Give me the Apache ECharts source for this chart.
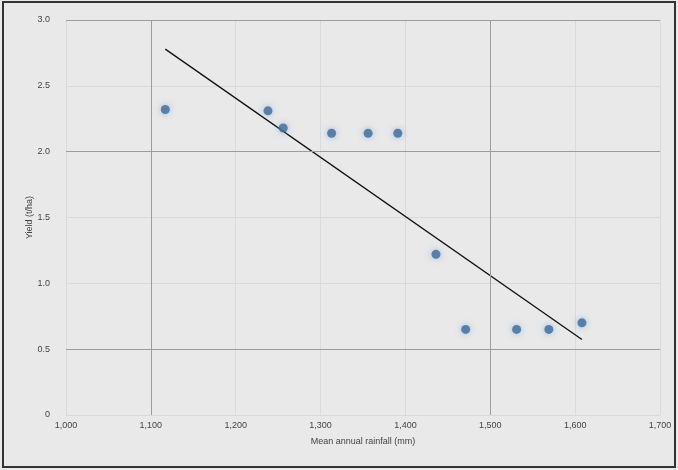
<!DOCTYPE html>
<html>
<head>
<meta charset="utf-8">
<script src="https://cdn.jsdelivr.net/npm/echarts@6/dist/echarts.min.js"></script>
<style>
    html, body {margin: 0; padding: 0; background: #e9e9e9;}
    #main {width: 678px; height: 470px;}
</style>
</head>
<body>
<div id="main"></div>
<script>
// ------------------ data ------------------
const xValues = [1117, 1238, 1256, 1313, 1356, 1391, 1436, 1471, 1531, 1569, 1608];
const yValues = [2.32, 2.31, 2.18, 2.14, 2.14, 2.14, 1.22, 0.65, 0.65, 0.65, 0.70];
const xTicks = [1000, 1100, 1200, 1300, 1400, 1500, 1600, 1700];
const yTicks = [0, 0.5, 1, 1.5, 2, 2.5, 3];
const xMajor = [1100, 1500];
const yMajor = [0.5, 2];

// linear trend (least squares) from the points
function trend(xs, ys) {
    let n = xs.length, mx = 0, my = 0;
    for (let i = 0; i < n; i++) { mx += xs[i]; my += ys[i]; }
    mx /= n; my /= n;
    let sxy = 0, sxx = 0;
    for (let i = 0; i < n; i++) {
        sxy += (xs[i] - mx) * (ys[i] - my);
        sxx += (xs[i] - mx) * (xs[i] - mx);
    }
    let b = sxy / sxx, a = my - b * mx;
    let x0 = Math.min(...xs), x1 = Math.max(...xs);
    return [[x0, a + b * x0], [x1, a + b * x1]];
}

let myChart = echarts.init(document.getElementById('main'));
let labelStyle = {color: '#444', fontSize: 9, fontFamily: 'Liberation Sans'};

let option = {
    animation: false,
    backgroundColor: '#e9e9e9',
    grid: {left: 66, right: 18, top: 20, bottom: 55},
    xAxis: {
        type: 'value',
        min: xTicks[0], max: xTicks[xTicks.length - 1], interval: 100,
        name: 'Mean annual rainfall (mm)',
        nameLocation: 'middle', nameGap: 22,
        nameTextStyle: labelStyle,
        axisLine: {show: false},
        axisTick: {show: false},
        axisLabel: Object.assign({margin: 6, formatter: v => v.toLocaleString('en-US')}, labelStyle),
        splitLine: {show: true, lineStyle: {color: '#dadada', width: 1}}
    },
    yAxis: {
        type: 'value',
        min: yTicks[0], max: yTicks[yTicks.length - 1], interval: 0.5,
        name: 'Yield (t/ha)',
        nameLocation: 'middle', nameGap: 32,
        nameMoveOverlap: false,
        nameTextStyle: labelStyle,
        axisLine: {show: false},
        axisTick: {show: false},
        axisLabel: Object.assign({margin: 16, formatter: v => v === 0 ? '0' : v.toFixed(1)}, labelStyle),
        splitLine: {show: true, lineStyle: {color: '#dadada', width: 1}}
    },
    graphic: [{
        type: 'rect',
        shape: {x: 3, y: 2, width: 672, height: 465},
        style: {fill: 'none', stroke: '#333', lineWidth: 2},
        silent: true
    }],
    series: [
        {
            name: 'points',
            type: 'scatter',
            data: xValues.map((x, i) => [x, yValues[i]]),
            symbolSize: 9,
            itemStyle: {
                color: '#3f6a96',
                shadowBlur: 6,
                shadowColor: 'rgba(120,170,230,0.9)'
            },
            markLine: {
                silent: true,
                symbol: 'none',
                label: {show: false},
                lineStyle: {color: '#9c9c9c', type: 'solid', width: 1},
                data: xMajor.map(v => ({xAxis: v})).concat(yMajor.map(v => ({yAxis: v})))
                    .concat([{yAxis: yTicks[yTicks.length - 1]}])
            },
            z: 3
        },
        {
            name: 'trend',
            type: 'line',
            data: trend(xValues, yValues),
            symbol: 'none',
            lineStyle: {color: '#111', width: 1.3},
            z: 2
        }
    ]
};

myChart.setOption(option);
</script>
</body>
</html>
